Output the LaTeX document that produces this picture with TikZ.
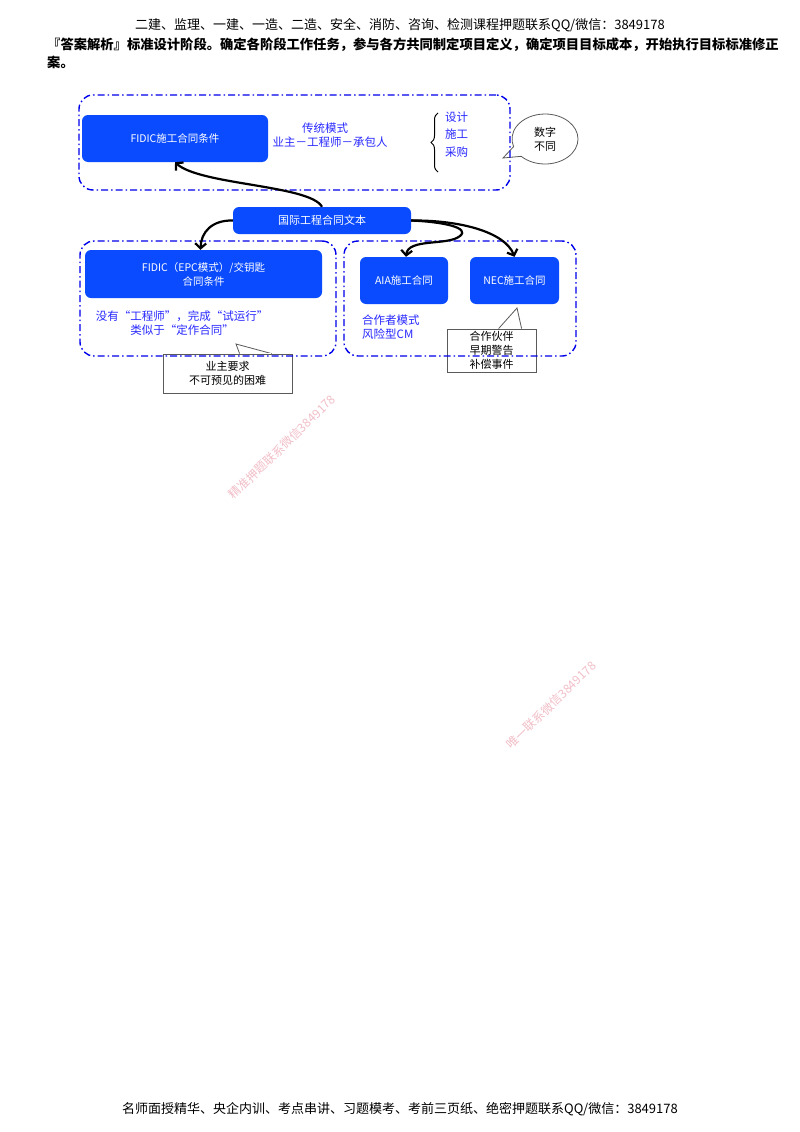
\documentclass[tikz,border=0pt]{standalone}
\usepackage{fontspec}
\setmainfont{Noto Sans CJK SC}
\usetikzlibrary{arrows.meta,shapes.callouts,decorations.pathreplacing,calc}
\definecolor{boxblue}{RGB}{10,75,255}
\definecolor{txtblue}{RGB}{40,40,255}
\definecolor{lineblue}{RGB}{0,0,235}
\definecolor{wm}{RGB}{242,190,200}
\definecolor{callgray}{RGB}{90,90,90}
\begin{document}
\begin{tikzpicture}[x=1pt,y=-1pt,
  dashbox/.style={draw=lineblue, line width=1.4pt, rounded corners=14pt,
    dash pattern=on 7pt off 3pt on 1.5pt off 3pt, minimum width=#1},
  bluebox/.style={fill=boxblue, rounded corners=6pt, text=white, align=center,
    inner sep=0pt, font=\fontsize{10.5}{14}\selectfont},
  bluetext/.style={text=txtblue, inner sep=0pt, font=\fontsize{11.5}{14}\selectfont},
  calloutbox/.style={draw=callgray, line width=0.8pt, fill=white, inner sep=0pt, align=center,
    font=\fontsize{11}{14}\selectfont},
  arr/.style={line width=2.2pt, -{Straight Barb[length=5pt,width=11pt]}},
  head/.style={inner sep=0pt, font=\fontsize{13}{16}\selectfont},
  wmark/.style={rotate=44, text=wm, inner sep=0pt, font=\fontsize{12}{14}\selectfont}
]
\useasboundingbox[fill=white] (0,0) rectangle (800,1132);

% header
\node[head] (h1) at (400,25) {二建、监理、一建、一造、二造、安全、消防、咨询、检测课程押题联系QQ/微信：3849178};
\node[head, anchor=west, font=\fontsize{13.3}{16}\selectfont\bfseries] (h2) at (47,45) {『答案解析』标准设计阶段。确定各阶段工作任务，参与各方共同制定项目定义，确定项目目标成本，开始执行目标标准修正};
\node[head, anchor=west, font=\fontsize{13.3}{16}\selectfont\bfseries] (h3) at (47,62) {案。};

% callouts (drawn below the dashed boxes)
\node[calloutbox, minimum width=129, minimum height=39] (c1) at (227.5,373.5) {业主要求\\不可预见的困难};
\coordinate (t1) at (236,344);
\filldraw[draw=callgray, fill=white, line width=0.8pt] ($(c1.north west)+(77,0)$) -- (t1) -- ($(c1.north west)+(109,0)$);
\draw[white, line width=1.2pt] ($(c1.north west)+(78,0)$) -- ($(c1.north west)+(108,0)$);

\node[calloutbox, fill=none, minimum width=89, minimum height=43] (c2) at (491.5,350.5) {合作伙伴\\早期警告\\补偿事件};
\coordinate (t2) at (517,308);
\draw[white, line width=1.2pt] ($(c2.north west)+(53,0)$) -- ($(c2.north west)+(74,0)$);
\draw[callgray, line width=0.8pt] ($(c2.north west)+(52,0)$) -- (t2) -- ($(c2.north west)+(75,0)$);

\node[ellipse callout, draw=callgray, line width=0.8pt, fill=white, align=center,
  callout absolute pointer={(503,158)}, callout pointer arc=26,
  minimum width=66, minimum height=50, inner sep=0pt,
  font=\fontsize{11}{14}\selectfont] (c3) at (545,139) {数字\\不同};

% dashed group boxes
\node[dashbox=431, minimum height=95] (topbox) at (294.5,142.5) {};
\node[dashbox=256, minimum height=115] (lbox) at (208,298.5) {};
\node[dashbox=232, minimum height=115] (rbox) at (460,298.5) {};

% blue boxes
\node[bluebox, minimum width=186, minimum height=47] (f1) at (175,138.5) {FIDIC施工合同条件};
\node[bluebox, minimum width=178, minimum height=27, font=\fontsize{11}{14}\selectfont] (g) at (322,220.5) {国际工程合同文本};
\node[bluebox, minimum width=237, minimum height=48] (e) at (203.5,274) {FIDIC（EPC模式）/交钥匙\\合同条件};
\node[bluebox, minimum width=88, minimum height=47] (a) at (404,280.5) {AIA施工合同};
\node[bluebox, minimum width=89, minimum height=47] (n) at (514.5,280.5) {NEC施工合同};

% blue texts
\node[bluetext] (t-a) at (325,128) {传统模式};
\node[bluetext] (t-b) at (330,142) {业主－工程师－承包人};
\node[bluetext, anchor=west] (s1) at (445,117) {设计};
\node[bluetext, anchor=west] (s2) at (445,134) {施工};
\node[bluetext, anchor=west] (s3) at (445,152) {采购};
\draw[line width=1pt, decorate, decoration={brace, amplitude=7pt}] (438,172) -- (438,113);
\node[bluetext] (e1) at (182,316) {没有“工程师”，完成“试运行”};
\node[bluetext] (e2) at (182,330) {类似于“定作合同”};
\node[bluetext, anchor=west] (r1) at (362,320) {合作者模式};
\node[bluetext, anchor=west] (r2) at (362,334) {风险型CM};

% arrows
\draw[arr] (g.north) .. controls (310,185) and (200,185) .. (f1.south);
\draw[arr] (g.west) .. controls (212,220) and (201,232) .. ([xshift=-3pt]e.north);
\draw[arr] (g.east) .. controls (445,222) and (470,228) .. (460,236) .. controls (448,246) and (408,238) .. ([xshift=2pt]a.north);
\draw[arr] (g.east) .. controls (460,220) and (505,232) .. (n.north);

% watermarks
\node[wmark] (w1) at (282,447) {精准押题联系微信3849178};
\node[wmark] (w2) at (551,705) {唯一联系微信3849178};

% footer
\node[head] (ft) at (400,1109) {名师面授精华、央企内训、考点串讲、习题模考、考前三页纸、绝密押题联系QQ/微信：3849178};
\end{tikzpicture}
\end{document}
